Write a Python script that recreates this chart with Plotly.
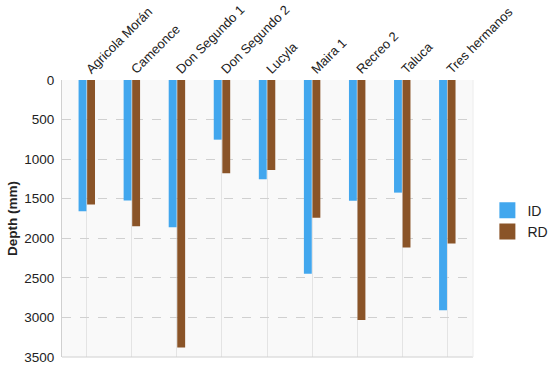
import plotly.graph_objects as go

sites = ["Agricola Morán", "Cameonce", "Don Segundo 1", "Don Segundo 2", "Lucyla",
         "Maira 1", "Recreo 2", "Taluca", "Tres hermanos"]
id_depth = [1657, 1521, 1860, 754, 1254, 2449, 1525, 1423, 2910]
rd_depth = [1572, 1847, 3380, 1178, 1136, 1741, 3033, 2118, 2067]
y_ticks = [0, 500, 1000, 1500, 2000, 2500, 3000, 3500]
id_color = "#42A7EE"
rd_color = "#8A5428"

fig = go.Figure()
fig.add_trace(go.Bar(x=sites, y=id_depth, name="ID", showlegend=False,
                     marker=dict(color=id_color, line=dict(width=0))))
fig.add_trace(go.Bar(x=sites, y=rd_depth, name="RD", showlegend=False,
                     marker=dict(color=rd_color, line=dict(width=0))))
# legend entries with larger square swatches
for nm, col in [("ID", id_color), ("RD", rd_color)]:
    fig.add_trace(go.Scatter(x=[None], y=[None], mode="markers", name=nm,
                             marker=dict(symbol="square", size=17, color=col)))

fig.update_layout(
    width=550, height=369,
    margin=dict(l=62, r=77, t=80, b=12, autoexpand=False),
    paper_bgcolor="white",
    plot_bgcolor="#F9F9F9",
    barmode="group",
    bargap=0.62,
    bargroupgap=0.08,
    font=dict(family="Arial, Liberation Sans, sans-serif", size=12, color="#222"),
    legend=dict(x=1.035, y=0.49, yanchor="middle", xanchor="left",
                font=dict(size=14, color="#222"), tracegroupgap=0, itemwidth=30),
    xaxis=dict(side="top", tickangle=-45, showgrid=True, gridcolor="#E4E4E4", gridwidth=1,
               ticks="", showline=False, range=[-0.55, 8.57], automargin=False,
               tickfont=dict(size=13, color="#222")),
    yaxis=dict(range=[3500, 0], tickvals=y_ticks, showgrid=True, gridcolor="#D0D0D0",
               griddash="dash", zeroline=False, showline=True, linecolor="#D0D0D0",
               ticks="", tickfont=dict(size=13.5, color="#222"), automargin=False,
               ticklabelstandoff=4,
               title=dict(text="<b>Depth (mm)</b>", font=dict(size=13.5, color="#222"), standoff=3)),
    showlegend=True,
)
fig.add_shape(type="line", xref="paper", yref="paper", x0=0, x1=1, y0=0, y1=0,
              line=dict(color="#D0D0D0", width=1))
fig.add_shape(type="line", xref="paper", yref="paper", x0=1, x1=1, y0=0, y1=1,
              line=dict(color="#ECECEC", width=1))

fig.write_html("out.html", config={"displayModeBar": False},
               post_script="document.body.style.margin='0';")
